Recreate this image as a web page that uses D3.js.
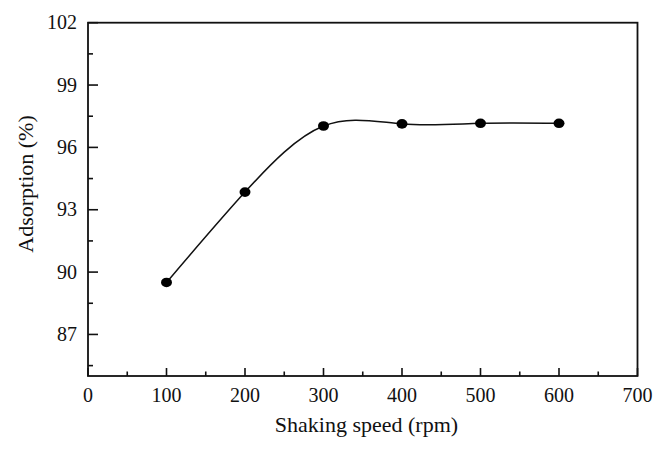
<!DOCTYPE html>
<html><head><meta charset="utf-8">
<script src="https://cdn.jsdelivr.net/npm/d3@7"></script>
<style>body{margin:0;background:#fff}</style>
</head><body>
<svg id="c" width="666" height="453"></svg>
<script>
const speeds = [100, 200, 300, 400, 500, 600];
const adsorption = [89.5, 93.85, 97.03, 97.13, 97.16, 97.16];
const xTicks = [0, 100, 200, 300, 400, 500, 600, 700];
const yTicks = [87, 90, 93, 96, 99, 102];
const xLabel = "Shaking speed (rpm)";
const yLabel = "Adsorption (%)";

const svg = d3.select("#c");
const L = 88, R = 637.5, T = 22.7, B = 376;
const x = d3.scaleLinear().domain([0, 700]).range([L, R]);
const y = d3.scaleLinear().domain([85, 102]).range([B, T]);
const font = "'Liberation Serif', 'DejaVu Serif', serif";

// frame
svg.append("rect").attr("x", L).attr("y", T).attr("width", R - L).attr("height", B - T)
  .attr("fill", "none").attr("stroke", "#111").attr("stroke-width", 1.8);

// x ticks (inward)
const xMinor = d3.range(50, 700, 100);
const gx = svg.append("g");
gx.selectAll("line.maj").data(xTicks).join("line")
  .attr("x1", d => x(d)).attr("x2", d => x(d)).attr("y1", B).attr("y2", B - 8)
  .attr("stroke", "#111").attr("stroke-width", 1.6);
gx.selectAll("line.min").data(xMinor).join("line")
  .attr("x1", d => x(d)).attr("x2", d => x(d)).attr("y1", B).attr("y2", B - 4.5)
  .attr("stroke", "#111").attr("stroke-width", 1.6);
gx.selectAll("text").data(xTicks).join("text")
  .attr("x", d => x(d)).attr("y", B + 26).attr("text-anchor", "middle")
  .attr("font-family", font).attr("font-size", 20).attr("fill", "#111").text(d => d);

// y ticks
const yMinor = d3.range(85.5, 102, 3);
const gy = svg.append("g");
gy.selectAll("line.maj").data(yTicks).join("line")
  .attr("x1", L).attr("x2", L + 10).attr("y1", d => y(d)).attr("y2", d => y(d))
  .attr("stroke", "#111").attr("stroke-width", 1.6);
gy.selectAll("line.min").data(yMinor).join("line")
  .attr("x1", L).attr("x2", L + 5).attr("y1", d => y(d)).attr("y2", d => y(d))
  .attr("stroke", "#111").attr("stroke-width", 1.6);
gy.selectAll("text").data(yTicks).join("text")
  .attr("x", L - 11).attr("y", d => y(d) + 6.5).attr("text-anchor", "end")
  .attr("font-family", font).attr("font-size", 20).attr("fill", "#111").text(d => d);

// axis titles
svg.append("text").attr("x", 366.5).attr("y", 432).attr("text-anchor", "middle")
  .attr("font-family", font).attr("font-size", 22).attr("fill", "#111").text(xLabel);
svg.append("text").attr("transform", `translate(33,184) rotate(-90)`)
  .attr("text-anchor", "middle")
  .attr("font-family", font).attr("font-size", 22).attr("fill", "#111").text(yLabel);

// curve
const pts = speeds.map((s, i) => [s, adsorption[i]]);
const line = d3.line().x(d => x(d[0])).y(d => y(d[1])).curve(d3.curveNatural);
svg.append("path").attr("d", line(pts)).attr("fill", "none")
  .attr("stroke", "#111").attr("stroke-width", 1.5);

svg.selectAll("ellipse.pt").data(pts).join("ellipse")
  .attr("cx", d => x(d[0])).attr("cy", d => y(d[1]))
  .attr("rx", 5.5).attr("ry", 4.8).attr("fill", "#000");
</script>
</body></html>
